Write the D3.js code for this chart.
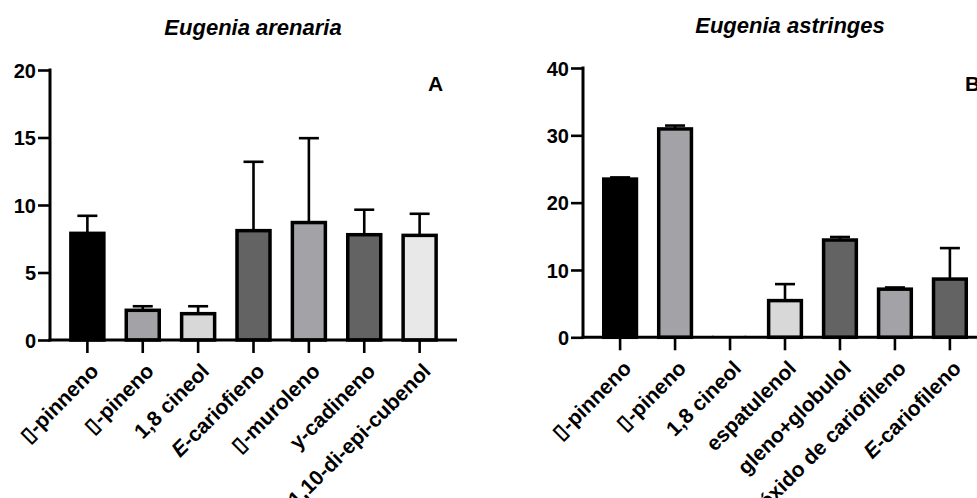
<!DOCTYPE html>
<html>
<head>
<meta charset="utf-8">
<script src="https://cdn.jsdelivr.net/npm/d3@7"></script>
<style>
  body { margin: 0; background: #fff; }
  svg { display: block; }
  text { font-family: "Liberation Sans", Arial, Helvetica, sans-serif; font-weight: bold; fill: #000; }
</style>
</head>
<body>
<svg id="chart" width="977" height="498"></svg>
<script>
// ---- Data ----
const titleA = "Eugenia arenaria";
const titleB = "Eugenia astringes";

const categoriesA = ["\u25AF-pinneno", "\u25AF-pineno", "1,8 cineol", "E-cariofieno", "\u25AF-muroleno", "y-cadineno", "1,10-di-epi-cubenol"];
const valuesA = [7.9, 2.2, 1.95, 8.1, 8.7, 7.8, 7.75];
const errorsA = [1.3, 0.3, 0.55, 5.1, 6.25, 1.85, 1.6];
const colorsA = ["#000000", "#a3a3a7", "#d8d8d8", "#636363", "#a3a3a7", "#636363", "#e8e8e8"];
const ticksA = [0, 5, 10, 15, 20];

const categoriesB = ["\u25AF-pinneno", "\u25AF-pineno", "1,8 cineol", "espatulenol", "gleno+globulol", "óxido de cariofileno", "E-cariofileno"];
const valuesB = [23.5, 30.95, 0, 5.45, 14.45, 7.15, 8.65];
const errorsB = [0.25, 0.5, 0, 2.45, 0.45, 0.25, 4.6];
const colorsB = ["#000000", "#a3a3a7", "#d8d8d8", "#d8d8d8", "#636363", "#a3a3a7", "#636363"];
const ticksB = [0, 10, 20, 30, 40];

const svg = d3.select("#chart");
const FONT = "'Liberation Sans', Arial, sans-serif";

function panel(cfg) {
  const g = svg.append("g");
  const x = d3.scaleBand().domain(cfg.categories).range([cfg.x0, cfg.x1])
    .paddingInner(0.35).paddingOuter(0.35);
  const y = d3.scaleLinear().domain([0, cfg.ymax]).range([cfg.y0, cfg.y1]);

  // title
  g.append("text").attr("x", cfg.titleX).attr("y", cfg.titleY)
    .attr("text-anchor", "middle").style("font-size", "22px").style("font-style", "italic")
    .text(cfg.title);
  // panel letter
  g.append("text").attr("x", cfg.letterX).attr("y", 91)
    .attr("text-anchor", "start").style("font-size", "21px").text(cfg.letter);

  const data = cfg.categories.map((c, i) => ({ c, v: cfg.values[i], e: cfg.errors[i], col: cfg.colors[i] }));

  // bars
  const bw = x.bandwidth();
  g.selectAll("rect.bar").data(data.filter(d => d.v > 0)).join("rect")
    .attr("class", "bar")
    .attr("x", d => x(d.c) + 1.5)
    .attr("width", bw - 3)
    .attr("y", d => y(d.v))
    .attr("height", d => y(0) - y(d.v))
    .attr("fill", d => d.col)
    .attr("stroke", "#000").attr("stroke-width", 3.5);

  // zero-height bar hint
  g.selectAll("line.zero").data(data.filter(d => d.v === 0)).join("line")
    .attr("x1", d => x(d.c)).attr("x2", d => x(d.c) + bw)
    .attr("y1", y(0) - 1.8).attr("y2", y(0) - 1.8)
    .attr("stroke", "#bbb").attr("stroke-width", 1).attr("stroke-dasharray", "1.5,31");

  // error bars
  const eb = data.filter(d => d.e > 0);
  g.selectAll("line.err").data(eb).join("line")
    .attr("x1", d => x(d.c) + bw / 2).attr("x2", d => x(d.c) + bw / 2)
    .attr("y1", d => y(d.v)).attr("y2", d => y(d.v + d.e))
    .attr("stroke", "#000").attr("stroke-width", 2.6);
  g.selectAll("line.cap").data(eb).join("line")
    .attr("x1", d => x(d.c) + bw / 2 - 10).attr("x2", d => x(d.c) + bw / 2 + 10)
    .attr("y1", d => y(d.v + d.e)).attr("y2", d => y(d.v + d.e))
    .attr("stroke", "#000").attr("stroke-width", 2.6);

  // y axis
  const ya = g.append("g").attr("transform", `translate(${cfg.x0},0)`)
    .call(d3.axisLeft(y).tickValues(cfg.ticks).tickSize(12).tickPadding(2).tickSizeOuter(0));
  ya.select(".domain").attr("stroke-width", 3).attr("d", `M0,${cfg.y0 + 1.5}V${cfg.y1 - 1.5}`);
  ya.selectAll(".tick line").attr("stroke-width", 2.6);
  ya.selectAll(".tick text").style("font-size", "20px").style("font-family", FONT).style("font-weight", "bold").attr("dy", "0.36em");

  // x axis
  const xa = g.append("g").attr("transform", `translate(0,${cfg.y0})`)
    .call(d3.axisBottom(x).tickSize(13).tickSizeOuter(0));
  xa.select(".domain").attr("stroke-width", 3).attr("d", `M${cfg.x0 - 1.5},0H${cfg.x1}`);
  xa.selectAll(".tick line").attr("stroke-width", 2.6);
  xa.selectAll(".tick text")
    .style("font-size", "21px").style("font-family", FONT).style("font-weight", "bold")
    .attr("text-anchor", "end")
    .attr("transform", "translate(0,13) rotate(-45)")
    .attr("x", -5).attr("y", 0).attr("dy", "1.07em")
    .each(function(d) {
      const t = d3.select(this);
      if (/^E-/.test(d)) {
        t.text(null);
        t.append("tspan").style("font-style", "italic").text("E");
        t.append("tspan").text(d.slice(1));
      }
    });
}

panel({
  title: titleA, titleX: 253, titleY: 35, letter: "A", letterX: 428,
  categories: categoriesA, values: valuesA, errors: errorsA, colors: colorsA, ticks: ticksA,
  x0: 50, x1: 457, y0: 340, y1: 70, ymax: 20
});
panel({
  title: titleB, titleX: 790, titleY: 33, letter: "B", letterX: 965,
  categories: categoriesB, values: valuesB, errors: errorsB, colors: colorsB, ticks: ticksB,
  x0: 583, x1: 987, y0: 337.3, y1: 68, ymax: 40
});
</script>
</body>
</html>
